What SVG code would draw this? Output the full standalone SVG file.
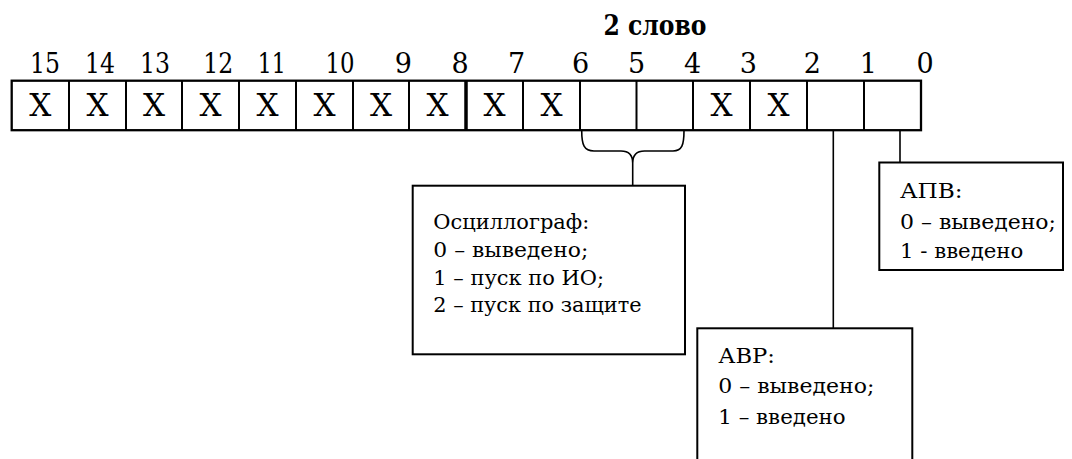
<svg xmlns="http://www.w3.org/2000/svg" width="1072" height="459" viewBox="0 0 1072 459">
<style>
text{font-family:'DejaVu Serif',serif;fill:#000}
.num{font-size:27px;text-anchor:middle}
.x{font-size:31px;text-anchor:middle}
.box{font-size:21px}
.title{font-size:27px;font-weight:bold;text-anchor:middle}
.frame{fill:#fff;stroke:#000;stroke-width:2}
.reg{fill:none;stroke:#000;stroke-width:2.3}
.div{stroke:#000;stroke-width:2}
.con{fill:none;stroke:#000;stroke-width:1.6}
</style>
<rect width="1072" height="459" fill="#fff"/>
<g id="title"><text class="title" x="655" y="35" textLength="103" lengthAdjust="spacingAndGlyphs">2 слово</text></g>
<g id="bitnumbers">
<text class="num" x="45" y="72.5" textLength="30" lengthAdjust="spacingAndGlyphs">15</text>
<text class="num" x="100" y="72.5" textLength="30" lengthAdjust="spacingAndGlyphs">14</text>
<text class="num" x="155" y="72.5" textLength="30" lengthAdjust="spacingAndGlyphs">13</text>
<text class="num" x="218.3" y="72.5" textLength="30" lengthAdjust="spacingAndGlyphs">12</text>
<text class="num" x="271.7" y="72.5" textLength="28" lengthAdjust="spacingAndGlyphs">11</text>
<text class="num" x="340" y="72.5" textLength="29" lengthAdjust="spacingAndGlyphs">10</text>
<text class="num" x="403.3" y="72.5">9</text><text class="num" x="460" y="72.5">8</text>
<text class="num" x="516.7" y="72.5">7</text><text class="num" x="580.7" y="72.5">6</text><text class="num" x="636.7" y="72.5">5</text><text class="num" x="692.7" y="72.5">4</text>
<text class="num" x="748.3" y="72.5">3</text><text class="num" x="812.3" y="72.5">2</text><text class="num" x="868.3" y="72.5">1</text><text class="num" x="925" y="72.5">0</text>
</g>
<g id="register">
<rect class="reg" x="11.7" y="80.7" width="909.3" height="49.5"/>
<g class="div">
<line x1="69" y1="80.7" x2="69" y2="130.2"/><line x1="126" y1="80.7" x2="126" y2="130.2"/>
<line x1="182" y1="80.7" x2="182" y2="130.2"/><line x1="239" y1="80.7" x2="239" y2="130.2"/>
<line x1="296" y1="80.7" x2="296" y2="130.2"/><line x1="353" y1="80.7" x2="353" y2="130.2"/>
<line x1="409" y1="80.7" x2="409" y2="130.2"/><line x1="466" y1="80.7" x2="466" y2="130.2" stroke-width="3.5"/>
<line x1="523" y1="80.7" x2="523" y2="130.2"/><line x1="580" y1="80.7" x2="580" y2="130.2"/>
<line x1="636.5" y1="80.7" x2="636.5" y2="130.2"/><line x1="693" y1="80.7" x2="693" y2="130.2"/>
<line x1="750" y1="80.7" x2="750" y2="130.2"/><line x1="807" y1="80.7" x2="807" y2="130.2"/>
<line x1="864" y1="80.7" x2="864" y2="130.2"/>
</g>
<g>
<text class="x" x="40.3" y="116">X</text><text class="x" x="97.5" y="116">X</text><text class="x" x="154" y="116">X</text><text class="x" x="210.5" y="116">X</text>
<text class="x" x="267.5" y="116">X</text><text class="x" x="324.5" y="116">X</text><text class="x" x="381" y="116">X</text><text class="x" x="437.5" y="116">X</text>
<text class="x" x="494.5" y="116">X</text><text class="x" x="551.5" y="116">X</text><text class="x" x="721.5" y="116">X</text><text class="x" x="778.5" y="116">X</text>
</g>
</g>
<g id="connectors" class="con">
<path d="M581.7,130.5 C581.7,145 584,151 594,151 L621,151 C629,151 632.7,155 632.7,163 C632.7,155 636.5,151 644.5,151 L673,151 C682,151 684,145 684,130.5"/>
<line x1="632.7" y1="163" x2="632.7" y2="185.7"/>
<line x1="833.3" y1="130" x2="833.3" y2="328.3"/>
<line x1="900" y1="130" x2="900" y2="162.5"/>
</g>
<g id="osc">
<rect class="frame" x="412.7" y="185.7" width="272.3" height="168.6"/>
<text class="box" x="433.3" y="229.3" textLength="156" lengthAdjust="spacingAndGlyphs">Осциллограф:</text>
<text class="box" x="433.3" y="257.3" textLength="155" lengthAdjust="spacingAndGlyphs">0 – выведено;</text>
<text class="box" x="433.3" y="285" textLength="170.7" lengthAdjust="spacingAndGlyphs">1 – пуск по ИО;</text>
<text class="box" x="433.3" y="312.3" textLength="208.3" lengthAdjust="spacingAndGlyphs">2 – пуск по защите</text>
</g>
<g id="apv">
<rect class="frame" x="879.3" y="162.5" width="183.7" height="107.5"/>
<text class="box" x="900" y="198" textLength="62.7" lengthAdjust="spacingAndGlyphs">АПВ:</text>
<text class="box" x="900" y="229.2" textLength="156" lengthAdjust="spacingAndGlyphs">0 – выведено;</text>
<text class="box" x="900" y="258" textLength="123.3" lengthAdjust="spacingAndGlyphs">1 - введено</text>
</g>
<g id="avr">
<rect class="frame" x="697.3" y="328.3" width="215" height="150"/>
<text class="box" x="718.3" y="363.3" textLength="56.7" lengthAdjust="spacingAndGlyphs">АВР:</text>
<text class="box" x="718.3" y="393.3" textLength="156" lengthAdjust="spacingAndGlyphs">0 – выведено;</text>
<text class="box" x="718.3" y="424.3" textLength="127.3" lengthAdjust="spacingAndGlyphs">1 – введено</text>
</g>
</svg>
